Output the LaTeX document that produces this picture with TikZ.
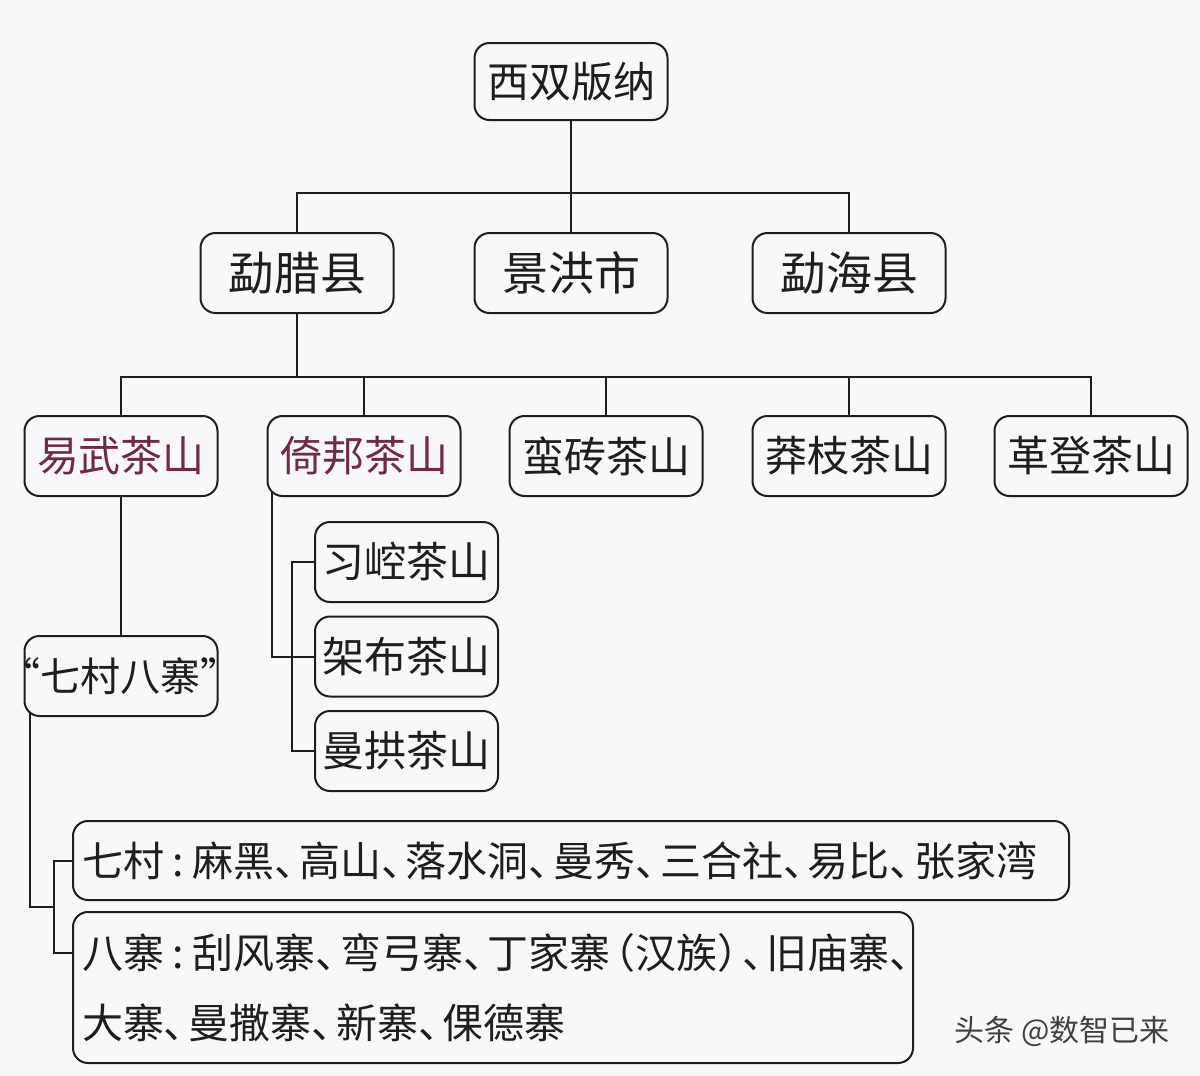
\documentclass[tikz,border=0pt]{standalone}
\usepackage{fontspec}
\newfontfamily\cjk{Noto Sans CJK SC}
\usetikzlibrary{calc}
\pgfdeclarelayer{bgl}\pgfdeclarelayer{lin}\pgfsetlayers{bgl,lin,main}
\definecolor{bgc}{HTML}{F8F8FA}
\definecolor{maroon}{HTML}{6E2A48}
\definecolor{ink}{HTML}{1E1E1E}
\newcommand{\dn}{\makebox[0.6em][l]{、}}
\newcommand{\cl}{\makebox[0.7em][c]{:}}
\begin{document}
\begin{tikzpicture}[x=0.5pt,y=-0.5pt,
  box/.style={draw=ink, line width=1pt, rounded corners=7.5pt, fill=bgc,
    minimum width=96.5pt, minimum height=40pt, inner sep=0pt, text=ink,
    font=\cjk\fontsize{21}{21}\selectfont},
  big/.style={font=\cjk\fontsize{23}{23}\selectfont},
  sub/.style={minimum width=91.5pt},
  red/.style={text=maroon},
  wide/.style={align=left, inner xsep=4.5pt, font=\cjk\fontsize{20.5}{35}\selectfont},
  conn/.style={draw=ink, line width=1pt}]
\begin{pgfonlayer}{bgl}
  \fill[bgc] (0,0) rectangle (1200,1076);
\end{pgfonlayer}
\useasboundingbox (0,0) rectangle (1200,1076);
% level 1
\node[box, minimum height=38.5pt] (xs) at (571,81.5) {西双版纳};
% level 2
\node[box, big] (ml) at (297,273) {勐腊县};
\node[box, big] (jh) at (571,273) {景洪市};
\node[box, big] (mh) at (849,273) {勐海县};
% level 3
\node[box, red] (yw) at (121,456) {易武茶山};
\node[box, red] (yb) at (364,456) {倚邦茶山};
\node[box] (mz) at (606,456) {蛮砖茶山};
\node[box] (mzh) at (849,456) {莽枝茶山};
\node[box] (gd) at (1091,456) {革登茶山};
% sub of 倚邦
\node[box, sub] (xk) at (406.5,562) {习崆茶山};
\node[box, sub] (jb) at (406.5,656.5) {架布茶山};
\node[box, sub] (mg) at (406.5,751) {曼拱茶山};
% sub of 易武
\node[box, font=\cjk\fontsize{20}{20}\selectfont] (q8) at (121,676)
  {\makebox[0.3em][r]{“}七村八寨\makebox[0.3em][l]{”}};
\node[box, wide, text width=489pt, minimum width=498pt, minimum height=39.5pt] (qc) at (571,860.5)
  {七村\cl 麻黑\dn 高山\dn 落水洞\dn 曼秀\dn 三合社\dn 易比\dn 张家湾};
\node[box, wide, text width=411pt, minimum width=420pt, minimum height=75.5pt] (bz) at (493,987.5)
  {八寨\cl 刮风寨\dn 弯弓寨\dn 丁家寨\makebox[0.6em][r]{（}汉族\makebox[0.6em][l]{）}\dn 旧庙寨\dn\\
   大寨\dn 曼撒寨\dn 新寨\dn 倮德寨};
% watermark
\node[text=ink!85, font=\cjk\fontsize{15}{15}\selectfont] (wm) at (1062,1031) {头条 @数智已来};
% connectors
\coordinate (b1) at (571,193);
\coordinate (b2) at (297,377);
\coordinate (j1) at (54,907);
\begin{pgfonlayer}{lin}
  \draw[conn] (xs.south) -- (b1);
  \draw[conn] (ml.north) |- (b1) -| (mh.north);
  \draw[conn] (jh.north) -- (b1);
  \draw[conn] (ml.south) -- (b2);
  \draw[conn] (yw.north) |- (b2) -| (gd.north);
  \draw[conn] (yb.north) -- (yb.north |- b2);
  \draw[conn] (mz.north) -- (mz.north |- b2);
  \draw[conn] (mzh.north) -- (mzh.north |- b2);
  \draw[conn] (yw.south) -- (q8.north);
  \draw[conn] ([xshift=2.5pt,yshift=5pt]yb.south west) |- (jb.west);
  \draw[conn] (xk.west) -- ++(-22,0) |- (mg.west);
  \draw[conn] ([xshift=3pt,yshift=5pt]q8.south west) |- (j1);
  \draw[conn] (qc.west) -| (j1) |- ([yshift=17.25pt]bz.west);
\end{pgfonlayer}
\end{tikzpicture}
\end{document}
